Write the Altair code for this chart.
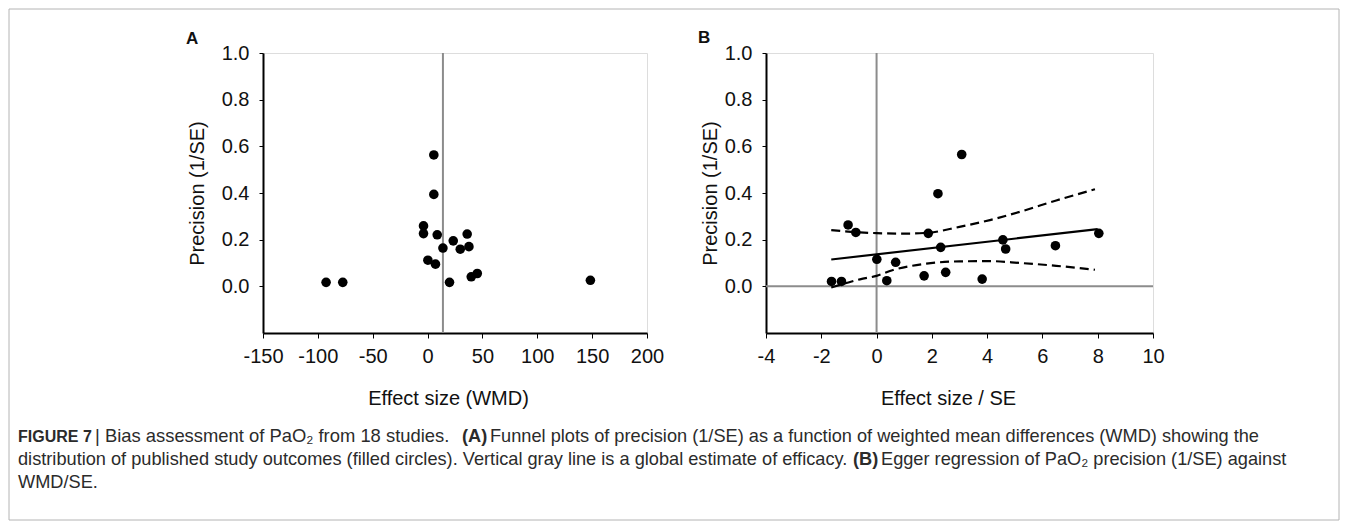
import altair as alt
import pandas as pd

# ---------------- data ----------------
# Panel A: funnel plot, precision (1/SE) vs effect size (WMD)
a_wmd = [-92.5, -77.3, 5.7, 5.7, -3.7, -3.7, 8.8, 14.0, 23.4, 29.8, 36.1, 37.7,
         0.3, 7.2, 20.0, 39.8, 45.3, 148.4]
a_precision = [0.017, 0.017, 0.563, 0.394, 0.259, 0.226, 0.221, 0.164, 0.195, 0.159,
               0.224, 0.170, 0.112, 0.095, 0.017, 0.041, 0.055, 0.026]
a_global_estimate = [14.0]

# Panel B: Egger regression, precision vs effect size / SE
b_wmd_se = [-1.63, -1.27, -1.03, -0.75, 0.01, 0.37, 0.69, 1.72, 1.87, 2.22, 2.32,
            2.50, 3.08, 3.82, 4.57, 4.67, 6.47, 8.04]
b_precision = [0.021, 0.021, 0.263, 0.231, 0.116, 0.024, 0.103, 0.045, 0.227, 0.397,
               0.167, 0.060, 0.565, 0.031, 0.199, 0.160, 0.174, 0.227]
fit_x = [-1.64, 8.0]
fit_y = [0.115, 0.245]
upper_x = [-1.64, -0.6, 0.0, 1.0, 1.9, 3.0, 4.1, 5.2, 6.5, 7.9]
upper_y = [0.241, 0.231, 0.228, 0.226, 0.230, 0.255, 0.284, 0.320, 0.368, 0.416]
lower_x = [-1.64, -0.6, 0.0, 0.6, 1.8, 3.0, 4.1, 5.2, 6.5, 7.9]
lower_y = [-0.005, 0.030, 0.045, 0.070, 0.097, 0.107, 0.108, 0.100, 0.088, 0.071]

a_x_ticks = [-150, -100, -50, 0, 50, 100, 150, 200]
b_x_ticks = [-4, -2, 0, 2, 4, 6, 8, 10]
y_ticks = [0.0, 0.2, 0.4, 0.6, 0.8, 1.0]

caption_line1 = ["FIGURE 7", "| Bias assessment of PaO\u2082 from 18 studies.", "(A)",
                 "Funnel plots of precision (1/SE) as a function of weighted mean differences (WMD) showing the"]
caption_line2 = ["distribution of published study outcomes (filled circles). Vertical gray line is a global estimate of efficacy.",
                 "(B)", "Egger regression of PaO\u2082 precision (1/SE) against"]
caption_line3 = ["WMD/SE."]

# ---------------- styling ----------------
FONT = "Liberation Sans, Arial, DejaVu Sans, sans-serif"
INK = "#111111"
GRAY = "#8c8c8c"
W_A, W_B, H = 384, 387, 280
OX, OY = 262, 52  # page position of panel A plot origin


def x_axis(values, title, title_x):
    return alt.Axis(values=values, title=title, grid=False, labelExpr="'' + datum.value",
                    domainColor="black", domainWidth=2, tickColor="black", tickSize=5,
                    tickWidth=1, labelFontSize=20, labelFont=FONT, labelColor=INK,
                    labelPadding=8, labelFlush=False, labelOverlap=False,
                    titleFontSize=20, titleFont=FONT, titleFontWeight="normal",
                    titleColor=INK, titleX=title_x, titleY=71, titleAlign="center",
                    titleBaseline="alphabetic")


def y_axis(title_x):
    return alt.Axis(values=y_ticks, title="Precision (1/SE)", grid=False,
                    labelExpr="format(datum.value, '.1f')",
                    domainColor="black", domainWidth=2, tickColor="black", tickSize=4,
                    tickWidth=1, labelFontSize=20, labelFont=FONT, labelColor=INK,
                    labelPadding=10, labelFlush=False, labelOverlap=False,
                    titleFontSize=20, titleFont=FONT, titleFontWeight="normal",
                    titleColor=INK, titleX=title_x, titleY=H / 2, titleAngle=270,
                    titleAlign="center", titleBaseline="alphabetic")


y_scale = alt.Scale(domain=[-0.2, 1.0], nice=False, zero=False)


# ---------------- caption + frame (drawn from panel A, page coordinates) ----------------
def seg(text, px, py, size, bold=False):
    return alt.Chart(pd.DataFrame({"t": [text]})).mark_text(
        align="left", baseline="alphabetic", font=FONT, fontSize=size,
        fontWeight="bold" if bold else "normal", color="#2b2b2b"
    ).encode(text="t:N", x=alt.value(px - OX), y=alt.value(py - OY))


frame = alt.Chart(pd.DataFrame({"t": ["frame"]})).mark_rect(
    fill="transparent", stroke="#b4b4b4", strokeWidth=1).encode(
    x=alt.value(8 - OX), x2=alt.value(1338 - OX), y=alt.value(8 - OY), y2=alt.value(519 - OY)
)

CAP = 18.2
caption_layers = [
    seg(caption_line1[0], 17, 441, 16, bold=True),
    seg(caption_line1[1], 94, 441, 18.4),
    seg(caption_line1[2], 461, 441, CAP, bold=True),
    seg(caption_line1[3], 489, 441, CAP),
    seg(caption_line2[0], 17, 464, CAP),
    seg(caption_line2[1], 852, 464, CAP, bold=True),
    seg(caption_line2[2], 880, 464, CAP),
    seg(caption_line3[0], 17, 487, CAP),
]

# ---------------- panel A ----------------
a_df = pd.DataFrame({"x": a_wmd, "y": a_precision})
a_xs = alt.Scale(domain=[-150, 200], nice=False, zero=False)

a_points = alt.Chart(a_df).mark_circle(size=92, color="black", opacity=1).encode(
    x=alt.X("x:Q", scale=a_xs, axis=x_axis(a_x_ticks, "Effect size (WMD)", 185)),
    y=alt.Y("y:Q", scale=y_scale, axis=y_axis(-60)),
)
a_vline = alt.Chart(pd.DataFrame({"x": a_global_estimate, "y": [-0.2], "y2": [1.0]})).mark_rule(
    color=GRAY, strokeWidth=2).encode(x=alt.X("x:Q", scale=a_xs), y=alt.Y("y:Q", scale=y_scale), y2="y2:Q")
a_label = alt.Chart(pd.DataFrame({"t": ["A"]})).mark_text(
    align="left", baseline="alphabetic", font=FONT, fontSize=17, fontWeight="bold", color=INK
).encode(text="t:N", x=alt.value(-77), y=alt.value(-9))

panel_a = alt.layer(frame, a_vline, a_points, a_label, *caption_layers).properties(
    width=W_A, height=H)

# ---------------- panel B ----------------
b_df = pd.DataFrame({"x": b_wmd_se, "y": b_precision})
b_xs = alt.Scale(domain=[-4, 10], nice=False, zero=False)

b_points = alt.Chart(b_df).mark_circle(size=92, color="black", opacity=1).encode(
    x=alt.X("x:Q", scale=b_xs, axis=x_axis(b_x_ticks, "Effect size / SE", 182)),
    y=alt.Y("y:Q", scale=y_scale, axis=y_axis(-50)),
)
b_vline = alt.Chart(pd.DataFrame({"x": [0.0], "y": [-0.2], "y2": [1.0]})).mark_rule(
    color=GRAY, strokeWidth=2).encode(x=alt.X("x:Q", scale=b_xs), y=alt.Y("y:Q", scale=y_scale), y2="y2:Q")
b_hline = alt.Chart(pd.DataFrame({"x": [-4.0], "x2": [10.0], "y": [0.0]})).mark_rule(
    color=GRAY, strokeWidth=2).encode(x=alt.X("x:Q", scale=b_xs), x2="x2:Q", y=alt.Y("y:Q", scale=y_scale))
b_fit = alt.Chart(pd.DataFrame({"x": fit_x, "y": fit_y})).mark_line(
    color="black", strokeWidth=2.2).encode(x=alt.X("x:Q", scale=b_xs), y=alt.Y("y:Q", scale=y_scale))
b_upper = alt.Chart(pd.DataFrame({"x": upper_x, "y": upper_y})).mark_line(
    color="black", strokeWidth=2.2, strokeDash=[9, 5], interpolate="monotone").encode(
    x=alt.X("x:Q", scale=b_xs), y=alt.Y("y:Q", scale=y_scale))
b_lower = alt.Chart(pd.DataFrame({"x": lower_x, "y": lower_y})).mark_line(
    color="black", strokeWidth=2.2, strokeDash=[9, 5], interpolate="monotone").encode(
    x=alt.X("x:Q", scale=b_xs), y=alt.Y("y:Q", scale=y_scale))
b_label = alt.Chart(pd.DataFrame({"t": ["B"]})).mark_text(
    align="left", baseline="alphabetic", font=FONT, fontSize=17, fontWeight="bold", color=INK
).encode(text="t:N", x=alt.value(-68), y=alt.value(-10))

panel_b = alt.layer(b_hline, b_vline, b_upper, b_lower, b_fit, b_points, b_label).properties(
    width=W_B, height=H)

chart = alt.hconcat(panel_a, panel_b, spacing=119, bounds="flush").properties(
    padding=0, background="white"
).configure_view(stroke="transparent").configure(font=FONT)

chart.save("out.html", embed_options={"renderer": "svg", "actions": False})
